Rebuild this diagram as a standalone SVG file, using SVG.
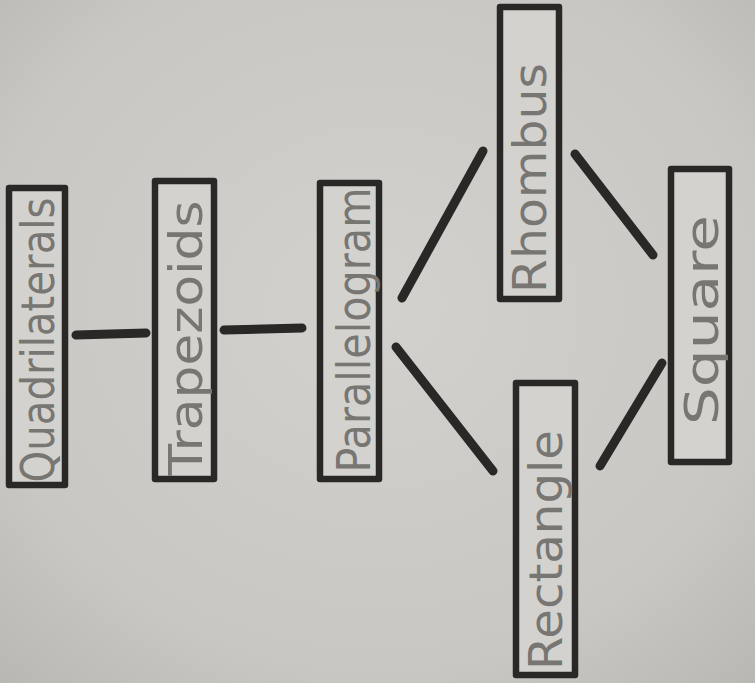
<svg xmlns="http://www.w3.org/2000/svg" width="755" height="683" viewBox="0 0 755 683">
<defs>
<radialGradient id="bg" cx="0.5" cy="0.45" r="0.75">
<stop offset="0" stop-color="#d3d1cd"/>
<stop offset="0.7" stop-color="#c9c7c3"/>
<stop offset="1" stop-color="#b9b7b3"/>
</radialGradient>
</defs>
<style>
.box{fill:#d4d2ce;stroke:#2a2826;stroke-width:6.5;stroke-linejoin:round}
.lbl{font-family:"DejaVu Sans",sans-serif;font-size:46px;font-weight:normal;fill:#787673;text-anchor:middle;dominant-baseline:central}
.con{stroke:#2a2826;stroke-width:9;stroke-linecap:round;fill:none}
</style>
<rect width="755" height="683" fill="url(#bg)"/>
<g id="connectors">
<line class="con" x1="76" y1="335" x2="146" y2="333"/>
<line class="con" x1="224" y1="330" x2="302" y2="328"/>
<line class="con" x1="402" y1="298" x2="483" y2="151"/>
<line class="con" x1="396" y1="347" x2="493" y2="471"/>
<line class="con" x1="575" y1="154" x2="653" y2="255"/>
<line class="con" x1="600" y1="466" x2="662" y2="363"/>
</g>
<g id="quadrilaterals">
<rect class="box" x="9" y="188" width="56" height="297"/>
<text class="lbl" transform="translate(38,340) rotate(-90)" textLength="285" lengthAdjust="spacingAndGlyphs">Quadrilaterals</text>
</g>
<g id="trapezoids">
<rect class="box" x="155" y="181" width="59" height="298"/>
<text class="lbl" transform="translate(186,338) rotate(-90)" textLength="275" lengthAdjust="spacingAndGlyphs">Trapezoids</text>
</g>
<g id="parallelogram">
<rect class="box" x="320" y="183" width="59" height="296"/>
<text class="lbl" transform="translate(354,330) rotate(-90)" textLength="285" lengthAdjust="spacingAndGlyphs">Parallelogram</text>
</g>
<g id="rhombus">
<rect class="box" x="500" y="7" width="59" height="292"/>
<text class="lbl" transform="translate(530,178) rotate(-90)" textLength="230" lengthAdjust="spacingAndGlyphs">Rhombus</text>
</g>
<g id="rectangle">
<rect class="box" x="516" y="383" width="59" height="292"/>
<text class="lbl" transform="translate(546,550) rotate(-90)" textLength="240" lengthAdjust="spacingAndGlyphs">Rectangle</text>
</g>
<g id="square">
<rect class="box" x="671" y="169" width="58" height="293"/>
<text class="lbl" transform="translate(702,320) rotate(-90)" textLength="210" lengthAdjust="spacingAndGlyphs">Square</text>
</g>
</svg>
